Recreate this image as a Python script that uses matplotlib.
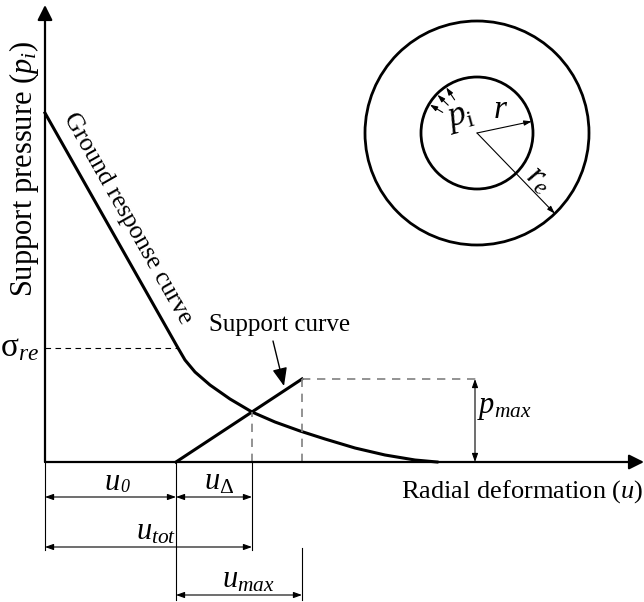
import numpy as np
import matplotlib.pyplot as plt
from matplotlib.patches import Circle

plt.rcParams['font.family'] = ['Liberation Serif', 'DejaVu Serif']
plt.rcParams['mathtext.fontset'] = 'custom'
plt.rcParams['mathtext.rm'] = 'Liberation Serif'
plt.rcParams['mathtext.it'] = 'Liberation Serif:italic'
plt.rcParams['mathtext.bf'] = 'Liberation Serif:bold'
plt.rcParams['mathtext.fallback'] = 'stix'

# ground response curve (u, p), linear part then non-linear part
ground_u = [0, 133, 140, 150, 165, 185, 207, 230, 255, 280, 310, 340, 370, 392]
ground_p = [349, 114, 102, 90, 77, 63, 50, 40, 31, 23, 14, 7, 2, 0]

# support curve
support_u = [131, 257]
support_p = [0, 83]

# key values
sigma_re = 114
u0 = 131
u_eq = 207
p_eq = 50
u_end = 257
p_max = 83

fig = plt.figure(figsize=(6.44, 6.02), dpi=100)
ax = fig.add_axes([0, 0, 1, 1])
ax.set_xlim(-45, 599)
ax.set_ylim(-140, 462)
ax.axis('off')

# axes with arrow heads
big = dict(arrowstyle='-|>,head_length=0.9,head_width=0.45', color='black', lw=1.6,
           shrinkA=0, shrinkB=0)
ax.annotate('', xy=(0, 457), xytext=(0, 0), arrowprops=big)
ax.annotate('', xy=(599, 0), xytext=(0, 0), arrowprops=big)

# curves
ax.plot(ground_u, ground_p, color='black', lw=2.2, solid_joinstyle='round')
ax.plot(support_u, support_p, color='black', lw=2.2)

# dashed guides
ax.plot([0, ground_u[1]], [sigma_re, sigma_re], color='black', lw=0.8, ls=(0, (5, 4)))
gray = dict(color='#808080', lw=1.2, ls=(0, (5, 4)))
ax.plot([u_end, 435], [p_max, p_max], **gray)
ax.plot([u_end, u_end], [0, p_max], **gray)
ax.plot([u_eq, u_eq], [0, p_eq], **gray)

# extension lines below axis
ext = dict(color='black', lw=0.8)
ax.plot([0, 0], [0, -88], **ext)
ax.plot([u0, u0], [0, -138], **ext)
ax.plot([u_eq, u_eq], [0, -88], **ext)
ax.plot([u_end, u_end], [-86, -138], **ext)

# dimension arrows
dim = dict(arrowstyle='<|-|>,head_length=0.5,head_width=0.18', color='black', lw=0.8,
           shrinkA=0, shrinkB=0)
ax.annotate('', xy=(0, -35), xytext=(u0, -35), arrowprops=dim)
ax.annotate('', xy=(u0, -35), xytext=(u_eq, -35), arrowprops=dim)
ax.annotate('', xy=(0, -85), xytext=(u_eq, -85), arrowprops=dim)
ax.annotate('', xy=(u0, -133), xytext=(u_end, -133), arrowprops=dim)
ax.annotate('', xy=(430, 0), xytext=(430, p_max), arrowprops=dim)

fs = 22
ax.text(75, -20, r'$u$', fontsize=fs, ha='right', va='center')
ax.text(75, -26, '0', fontsize=13, style='italic', ha='left', va='center')
ax.text(174, -20, r'$u_{\Delta}$', fontsize=fs, ha='center', va='center')
ax.text(111, -70, r'$u_{tot}$', fontsize=fs, ha='center', va='center')
ax.text(203, -118, r'$u_{max}$', fontsize=fs, ha='center', va='center')
ax.text(432, 55, r'$p_{max}$', fontsize=fs, ha='left', va='center')
ax.text(-6, sigma_re, r'$\mathrm{\sigma}_{re}$', fontsize=24, ha='right', va='center')

# axis labels
ax.text(-21, 293, r'Support pressure ($p_i$)', fontsize=22, rotation=90,
        ha='center', va='center')
ax.text(477, -30, r'Radial deformation ($u$)', fontsize=19, ha='center', va='center')

# curve labels
ax.text(83, 243, 'Ground response curve', fontsize=18.5, rotation=-60.4,
        rotation_mode='anchor', ha='center', va='center')
ax.text(235, 137, 'Support curve', fontsize=18, ha='center', va='center')
ax.annotate('', xy=(239, 76), xytext=(228, 121),
            arrowprops=dict(arrowstyle='-|>,head_length=1.1,head_width=0.45',
                            color='black', lw=1.0, shrinkA=0, shrinkB=0))

# tunnel cross-section
cx, cy = 432, 329
r_in, r_out = 56, 112
ax.add_patch(Circle((cx, cy), r_out, fill=False, lw=2, color='black'))
ax.add_patch(Circle((cx, cy), r_in, fill=False, lw=2, color='black'))

small = dict(arrowstyle='-|>,head_length=0.45,head_width=0.15', color='black', lw=0.8,
             shrinkA=0, shrinkB=0)
a = np.deg2rad(12)
ax.annotate('', xy=(cx + r_in * np.cos(a), cy + r_in * np.sin(a)), xytext=(cx, cy),
            arrowprops=small)
a = np.deg2rad(-46)
ax.annotate('', xy=(cx + r_out * np.cos(a), cy + r_out * np.sin(a)), xytext=(cx, cy),
            arrowprops=small)
for deg in [149, 136, 124]:
    a = np.deg2rad(deg)
    ax.annotate('', xy=(cx + 55 * np.cos(a), cy + 55 * np.sin(a)),
                xytext=(cx + 40 * np.cos(a), cy + 40 * np.sin(a)), arrowprops=small)

ax.text(415, 345, r'$p_{\mathrm{i}}$', fontsize=25, rotation=15, ha='center', va='center')
ax.text(456, 352, r'$r$', fontsize=24, ha='center', va='center')
ax.text(494, 283, r'$r_e$', fontsize=24, rotation=-40, ha='center', va='center')

fig.savefig('out.png', dpi=100)
